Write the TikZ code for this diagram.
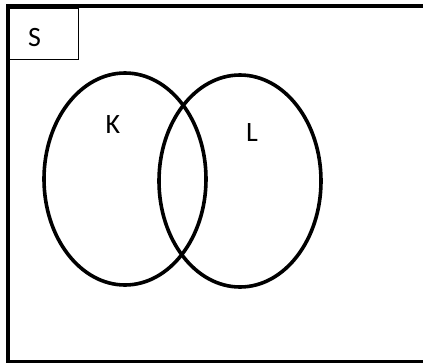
\documentclass[tikz,border=0pt]{standalone}
\usepackage{fontspec}
\setmainfont{Carlito}
\usetikzlibrary{shapes.geometric}
\tikzset{
  universe/.style={draw=black, line width=4pt},
  setname/.style={draw=black, line width=1pt, inner sep=0pt},
  venn/.style={draw=black, line width=3.6pt, ellipse, inner sep=0pt,
        minimum width=162pt, minimum height=212pt},
  vlab/.style={font=\fontsize{28}{32}\selectfont, inner sep=0pt}
}
\begin{document}
\begin{tikzpicture}[x=1pt, y=-1pt]
\useasboundingbox (0,0) rectangle (423,362);
% universe box, running off the right and bottom edge
\draw[universe] (8,6) rectangle (440,362);
\node[setname, minimum width=69.5pt, minimum height=51pt, anchor=north west] (sbox) at (8,8) {};
\node[vlab] (s) at (34.5,37.5) {S};
% the two sets
\node[venn] (setK) at (125,179) {};
\node[venn] (setL) at (240,181) {};
\node[vlab] (k) at (113,125) {K};
\node[vlab] (l) at (252,132.5) {L};
\end{tikzpicture}
\end{document}
